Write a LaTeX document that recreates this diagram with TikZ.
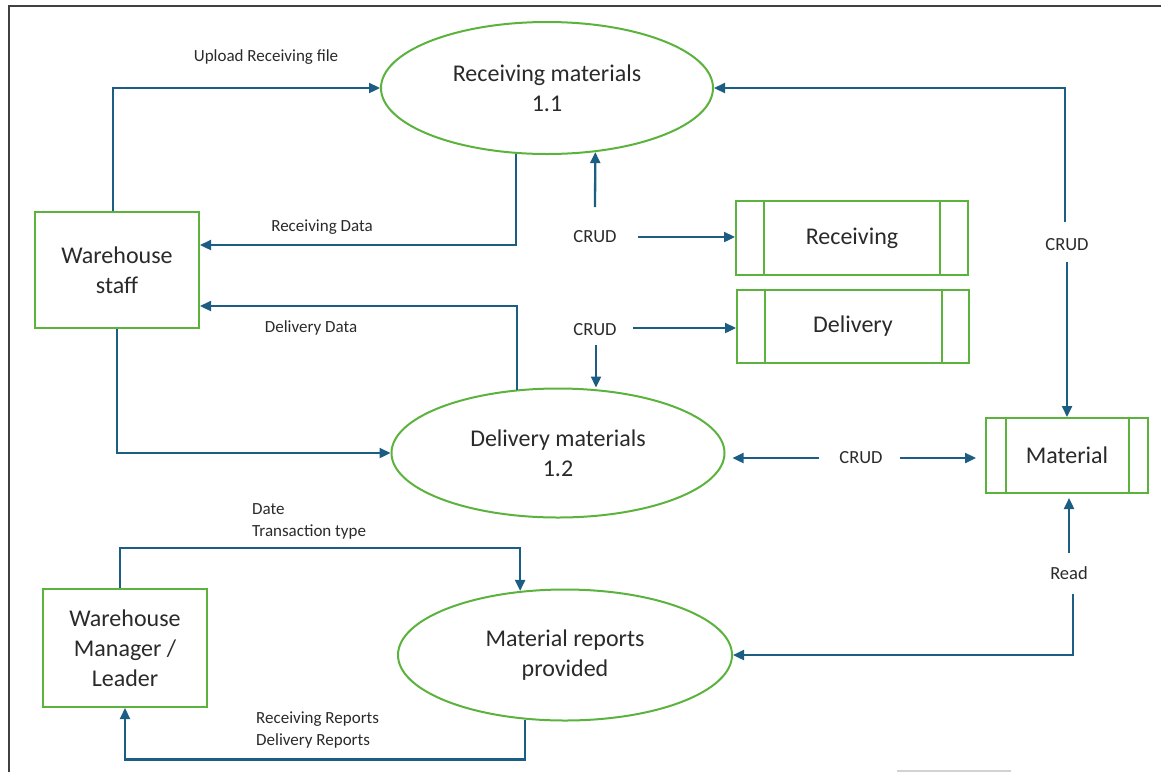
\documentclass[tikz,border=0pt]{standalone}
\usepackage{fontspec}
\setmainfont{Carlito}
\usetikzlibrary{arrows.meta,shapes.geometric}

\definecolor{flowblue}{HTML}{1C5D84}
\definecolor{boxgreen}{HTML}{5BB33D}
\definecolor{inkgray}{HTML}{2A2A2A}
\definecolor{framegray}{HTML}{404040}

\tikzset{
  bigtext/.style={font=\fontsize{24}{30}\selectfont, text=inkgray},
  proc/.style={ellipse, draw=boxgreen, line width=2pt, inner sep=0pt,
    align=center, bigtext},
  entity/.style={rectangle, draw=boxgreen, line width=2pt, inner sep=0pt,
    minimum width=164pt, align=center, bigtext},
  store/.style={rectangle, draw=boxgreen, line width=2pt, inner sep=0pt, bigtext},
  lbl/.style={font=\fontsize{17}{22}\selectfont, text=inkgray, inner sep=0pt},
  crudlbl/.style={lbl, font=\fontsize{18.5}{22}\selectfont},
  flow/.style={draw=flowblue, line width=2.3pt,
    -{Triangle[length=11pt,width=10pt]}},
}

\begin{document}
\begin{tikzpicture}[x=1pt,y=-1pt]
\useasboundingbox (0,0) rectangle (1161,772);

% outer frame
\draw[framegray, line width=2pt] (9,772) -- (9,6) -- (1161,6);
\draw[gray!35, line width=1.5pt] (897,771) -- (1011,771);

% processes
\node[proc, minimum width=332pt, minimum height=132pt] (rm) at (547,88)
  {Receiving materials\\1.1};
\node[proc, minimum width=333pt, minimum height=129pt] (dm) at (558,453)
  {Delivery materials\\1.2};
\node[proc, minimum width=334pt, minimum height=131pt] (mr) at (565,655)
  {Material reports\\provided};

% external entities
\node[entity, minimum height=116pt] (ws) at (117,270) {Warehouse\\staff};
\node[entity, minimum height=118pt] (wm) at (125,648)
  {Warehouse\\Manager /\\Leader};

% data stores
\node[store, minimum width=232pt, minimum height=74pt] (rs) at (852,238) {Receiving};
\node[store, minimum width=232pt, minimum height=73pt] (ds) at (853,326.5) {Delivery};
\node[store, minimum width=162pt, minimum height=75pt] (ms) at (1067,455.5) {Material};
\draw[boxgreen, line width=2pt]
  ([xshift=29pt]rs.north west) -- ([xshift=29pt]rs.south west)
  ([xshift=-29pt]rs.north east) -- ([xshift=-29pt]rs.south east)
  ([xshift=29pt]ds.north west) -- ([xshift=29pt]ds.south west)
  ([xshift=-28pt]ds.north east) -- ([xshift=-28pt]ds.south east)
  ([xshift=21pt]ms.north west) -- ([xshift=21pt]ms.south west)
  ([xshift=-20pt]ms.north east) -- ([xshift=-20pt]ms.south east);

% flow labels
\node[lbl] (lup) at (266,57) {Upload Receiving file};
\node[lbl] (lrd) at (322,227) {Receiving Data};
\node[lbl] (ldd) at (311,328) {Delivery Data};
\node[lbl, align=left, anchor=west] (ldt) at (252,521) {Date\\Transaction type};
\node[lbl, align=left, anchor=west] (lrp) at (256,730)
  {Receiving Reports\\Delivery Reports};
\node[crudlbl] (c1) at (595,237) {CRUD};
\node[crudlbl] (c2) at (595,330) {CRUD};
\node[crudlbl] (c3) at (1067,245) {CRUD};
\node[crudlbl] (c4) at (861,458) {CRUD};
\node[crudlbl] (rd) at (1069,573) {Read};

% free ends of the CRUD / Read flows
\coordinate (c1up) at (595,207);
\coordinate (c1rt) at (638,237);
\coordinate (c2rt) at (633,328);
\coordinate (c2dn) at (596,345);
\coordinate (c3up) at (1065,222);
\coordinate (c3dn) at (1067,262);
\coordinate (c4lf) at (819,458);
\coordinate (c4rt) at (900,458);
\coordinate (rdup) at (1069,553);
\coordinate (rddn) at (1073,594);

% staff <-> processes
\draw[flow] ([xshift=-4pt]ws.north) |- (rm.west);
\draw[flow] (rm.245) |- ([yshift=25pt]ws.east);
\draw[flow] (dm.123) |- ([yshift=-36pt]ws.east);
\draw[flow] (ws.south) |- (dm.west);

% processes <-> stores
\draw[flow] (c1up) -- (rm.307);
\draw[flow] (c1rt) -- (c1rt -| rs.west);
\draw[flow] (c2rt) -- (c2rt -| ds.west);
\draw[flow] (c2dn) -- (c2dn |- dm.north);
\draw[flow] (c3up) |- (rm.east);
\draw[flow] (c3dn) -- (ms.north);
\draw[flow, shorten >=7pt] (c4lf) -- (c4lf -| dm.east);
\draw[flow, shorten >=9pt] (c4rt) -- (c4rt -| ms.west);
\draw[flow, shorten >=4pt] (rdup) -- (rdup |- ms.south);
\draw[flow] (rddn) |- (mr.east);

% manager <-> reports
\draw[flow] ([xshift=-5pt]wm.north) -- ++(0,-40) -| (mr.125.5);
\draw[flow] (mr.238.5) -- ++(0,40) -| (wm.south);

\end{tikzpicture}
\end{document}
